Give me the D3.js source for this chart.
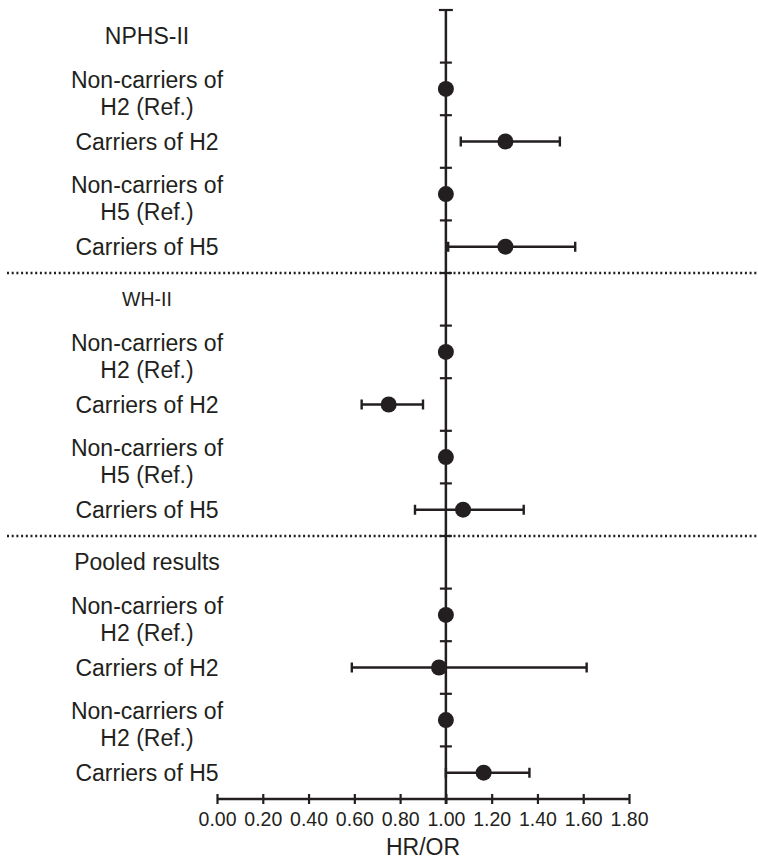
<!DOCTYPE html>
<html>
<head>
<meta charset="utf-8">
<script src="https://cdn.jsdelivr.net/npm/d3@7"></script>
<style>
  body { margin: 0; background: #fff; }
  svg text { font-family: "Liberation Sans", Arial, sans-serif; fill: #231f20; }
</style>
</head>
<body>
<svg id="chart"></svg>
<script>
// rows from top to bottom, "|" splits a label on two lines
const rowLabels = [
  "NPHS-II",
  "Non-carriers of|H2 (Ref.)",
  "Carriers of H2",
  "Non-carriers of|H5 (Ref.)",
  "Carriers of H5",
  "WH-II",
  "Non-carriers of|H2 (Ref.)",
  "Carriers of H2",
  "Non-carriers of|H5 (Ref.)",
  "Carriers of H5",
  "Pooled results",
  "Non-carriers of|H2 (Ref.)",
  "Carriers of H2",
  "Non-carriers of|H2 (Ref.)",
  "Carriers of H5"
];
const separatorAfter = [4, 9]; // dotted line under these rows
const estimate = [null, 1.00, 1.26, 1.00, 1.26, null, 1.00, 0.75, 1.00, 1.075, null, 1.00, 0.97, 1.00, 1.165];
const lower    = [null, null, 1.065, null, 1.01, null, null, 0.632, null, 0.865, null, null, 0.589, null, 1.00];
const upper    = [null, null, 1.498, null, 1.565, null, null, 0.90, null, 1.34, null, null, 1.615, null, 1.365];
const xTicks = [0, 0.2, 0.4, 0.6, 0.8, 1.0, 1.2, 1.4, 1.6, 1.8];
const xTitle = "HR/OR";

const W = 758, H = 861;
const ink = "#231f20";

const svg = d3.select("#chart").attr("width", W).attr("height", H);

const x = d3.scaleLinear().domain([0, 1.8]).range([217, 629]);
const y = d3.scaleBand().domain(d3.range(rowLabels.length)).range([10, 799]);
const bw = y.bandwidth();

// dotted separators
svg.selectAll(".sep")
  .data(separatorAfter)
  .enter()
  .append("line")
  .attr("x1", 7).attr("x2", W)
  .attr("y1", d => y(d) + bw).attr("y2", d => y(d) + bw)
  .attr("stroke", ink)
  .attr("stroke-width", 2.4)
  .attr("stroke-dasharray", "2,2.7");

// x axis
const xAxis = svg.append("g")
  .attr("transform", `translate(0, ${y.range()[1]})`)
  .call(d3.axisBottom(x).tickValues(xTicks).tickFormat(d3.format(".2f")).tickSize(5).tickSizeOuter(0));
xAxis.select(".domain").attr("stroke", ink).attr("stroke-width", 2.5).attr("d", `M${x(0)},0H${x(1.8)}`);
xAxis.selectAll(".tick line").attr("stroke", ink).attr("stroke-width", 2.2).attr("y1", -5);
xAxis.selectAll(".tick text")
  .attr("y", 13)
  .attr("dy", "0.71em")
  .style("font-size", "19.5px")
  .style("font-family", "Liberation Sans, Arial, sans-serif")
  .attr("fill", ink);

svg.append("text")
  .attr("x", (x(0) + x(1.8)) / 2)
  .attr("y", 855)
  .attr("text-anchor", "middle")
  .style("font-size", "23px")
  .text(xTitle);

// reference line at 1.00 with ticks at row boundaries
const boundaries = rowLabels.map((d, i) => y(i));
svg.append("line")
  .attr("x1", x(1)).attr("x2", x(1))
  .attr("y1", y.range()[0]).attr("y2", y.range()[1] + 5)
  .attr("stroke", ink).attr("stroke-width", 2.5);
svg.selectAll(".rtick")
  .data(boundaries)
  .enter()
  .append("line")
  .attr("x1", (d, i) => x(1) - (i === 0 ? 7 : 6))
  .attr("x2", (d, i) => x(1) + (i === 0 ? 7 : 6))
  .attr("y1", d => d).attr("y2", d => d)
  .attr("stroke", ink).attr("stroke-width", 2.2);

// row labels
const labelX = 147;
const labels = svg.selectAll(".lab")
  .data(rowLabels)
  .enter()
  .append("text")
  .attr("x", labelX)
  .attr("y", (d, i) => y(i) + bw / 2)
  .attr("text-anchor", "middle")
  .attr("dominant-baseline", "central")
  .style("font-size", (d, i) => i === 5 ? "19.5px" : "23px");
labels.each(function (d, i) {
  const parts = d.split("|");
  const t = d3.select(this);
  if (parts.length === 1) {
    t.text(d);
  } else {
    parts.forEach((p, k) => {
      t.append("tspan")
        .attr("x", labelX)
        .attr("y", y(i) + bw / 2 + (k === 0 ? -9 : 18))
        .text(p);
    });
  }
});

// confidence intervals
const ci = rowLabels.map((d, i) => i).filter(i => lower[i] !== null);
const capH = 5;
svg.selectAll(".ci")
  .data(ci)
  .enter()
  .append("path")
  .attr("d", i => {
    const cy = y(i) + bw / 2, a = x(lower[i]), b = x(upper[i]);
    return `M${a},${cy}H${b}M${a},${cy - capH}V${cy + capH}M${b},${cy - capH}V${cy + capH}`;
  })
  .attr("fill", "none")
  .attr("stroke", ink)
  .attr("stroke-width", 2.4);

// point estimates
svg.selectAll(".pt")
  .data(rowLabels.map((d, i) => i).filter(i => estimate[i] !== null))
  .enter()
  .append("circle")
  .attr("cx", i => x(estimate[i]))
  .attr("cy", i => y(i) + bw / 2)
  .attr("r", 8)
  .attr("fill", ink);
</script>
</body>
</html>
